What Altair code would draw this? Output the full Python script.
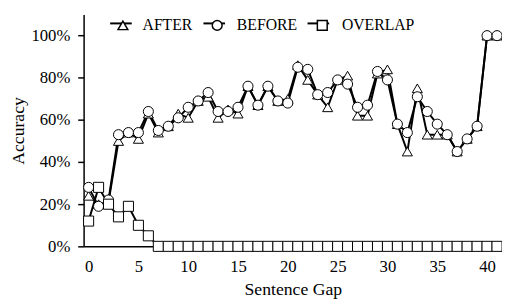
import altair as alt
import pandas as pd

gap = list(range(42))
after = [24, 20, 21, 50, 54, 51, 63, 54, 57, 63, 61, 69, 71, 61, 65, 63, 76, 67, 76, 69,
         70, 86, 79, 72, 66, 79, 81, 62, 62, 82, 84, 58, 45, 75, 53, 53, 53, 45, 51, 57,
         100, 100]
before = [28, 19, 22, 53, 54, 54, 64, 55, 57, 61, 66, 69, 73, 64, 64, 66, 76, 67, 76, 69,
          68, 85, 84, 72, 73, 79, 77, 66, 67, 83, 79, 58, 54, 71, 64, 58, 53, 45, 51, 57,
          100, 100]
overlap = [12, 28, 20, 14, 19, 10, 5] + [0] * 35
series = ["AFTER", "BEFORE", "OVERLAP"]

rows = []
for name, vals in zip(series, [after, before, overlap]):
    for g, v in zip(gap, vals):
        rows.append({"gap": g, "acc": v / 100.0, "series": name})
df = pd.DataFrame(rows)

FONT = "Liberation Serif"

x = alt.X("gap:Q", scale=alt.Scale(domain=[-0.5, 41.5], nice=False, zero=False),
          axis=alt.Axis(title="Sentence Gap", values=[0, 5, 10, 15, 20, 25, 30, 35, 40],
                        format="d", ticks=False, grid=False, domainColor="black",
                        domainWidth=1.5, labelPadding=13, labelFontSize=17,
                        titleFontSize=18, titlePadding=6))
y = alt.Y("acc:Q", scale=alt.Scale(domain=[0, 1.1], nice=False),
          axis=alt.Axis(title="Accuracy", values=[0, 0.2, 0.4, 0.6, 0.8, 1.0],
                        format=".0%", grid=False, domainColor="black", domainWidth=1.5,
                        tickColor="black", tickWidth=1.5, tickSize=6, labelPadding=8,
                        labelFontSize=17, titleFontSize=18, titlePadding=4))

base = alt.Chart(df)

lines = base.mark_line(strokeWidth=2).encode(
    x=x, y=y, order="gap:Q",
    color=alt.Color("series:N",
                    scale=alt.Scale(range=["black", "black", "black"]),
                    legend=alt.Legend(title=None, orient="none", direction="horizontal",
                                      legendX=26, legendY=-3, symbolType="stroke",
                                      symbolSize=484, symbolStrokeWidth=2,
                                      labelOffset=0, columnPadding=17,
                                      labelFontSize=16, labelColor="transparent")))

points = base.mark_point(filled=False, fill="white", fillOpacity=1, stroke="black",
                         strokeWidth=1, opacity=1, size=105).encode(
    x=x, y=y,
    shape=alt.Shape("series:N", scale=alt.Scale(domain=series,
                                                  range=["triangle-up", "circle", "square"]),
                    legend=alt.Legend(title=None, orient="none", direction="horizontal",
                                      legendX=32, legendY=3, symbolSize=100,
                                      labelOffset=12, columnPadding=17,
                                      labelFontSize=16, labelColor="black")))

chart = alt.layer(lines, points).resolve_legend(
    color="independent", shape="independent"
).properties(
    width=426, height=236,
    autosize=alt.AutoSizeParams(type="none"),
    padding={"left": 77, "top": 4, "right": 0, "bottom": 56},
    background="white",
).configure_view(stroke=None).configure_axis(
    labelFont=FONT, titleFont=FONT, labelColor="black", titleColor="black",
    titleFontWeight="normal"
).configure_legend(labelFont=FONT)

chart.save("out.html", embed_options={"renderer": "svg", "actions": False})
